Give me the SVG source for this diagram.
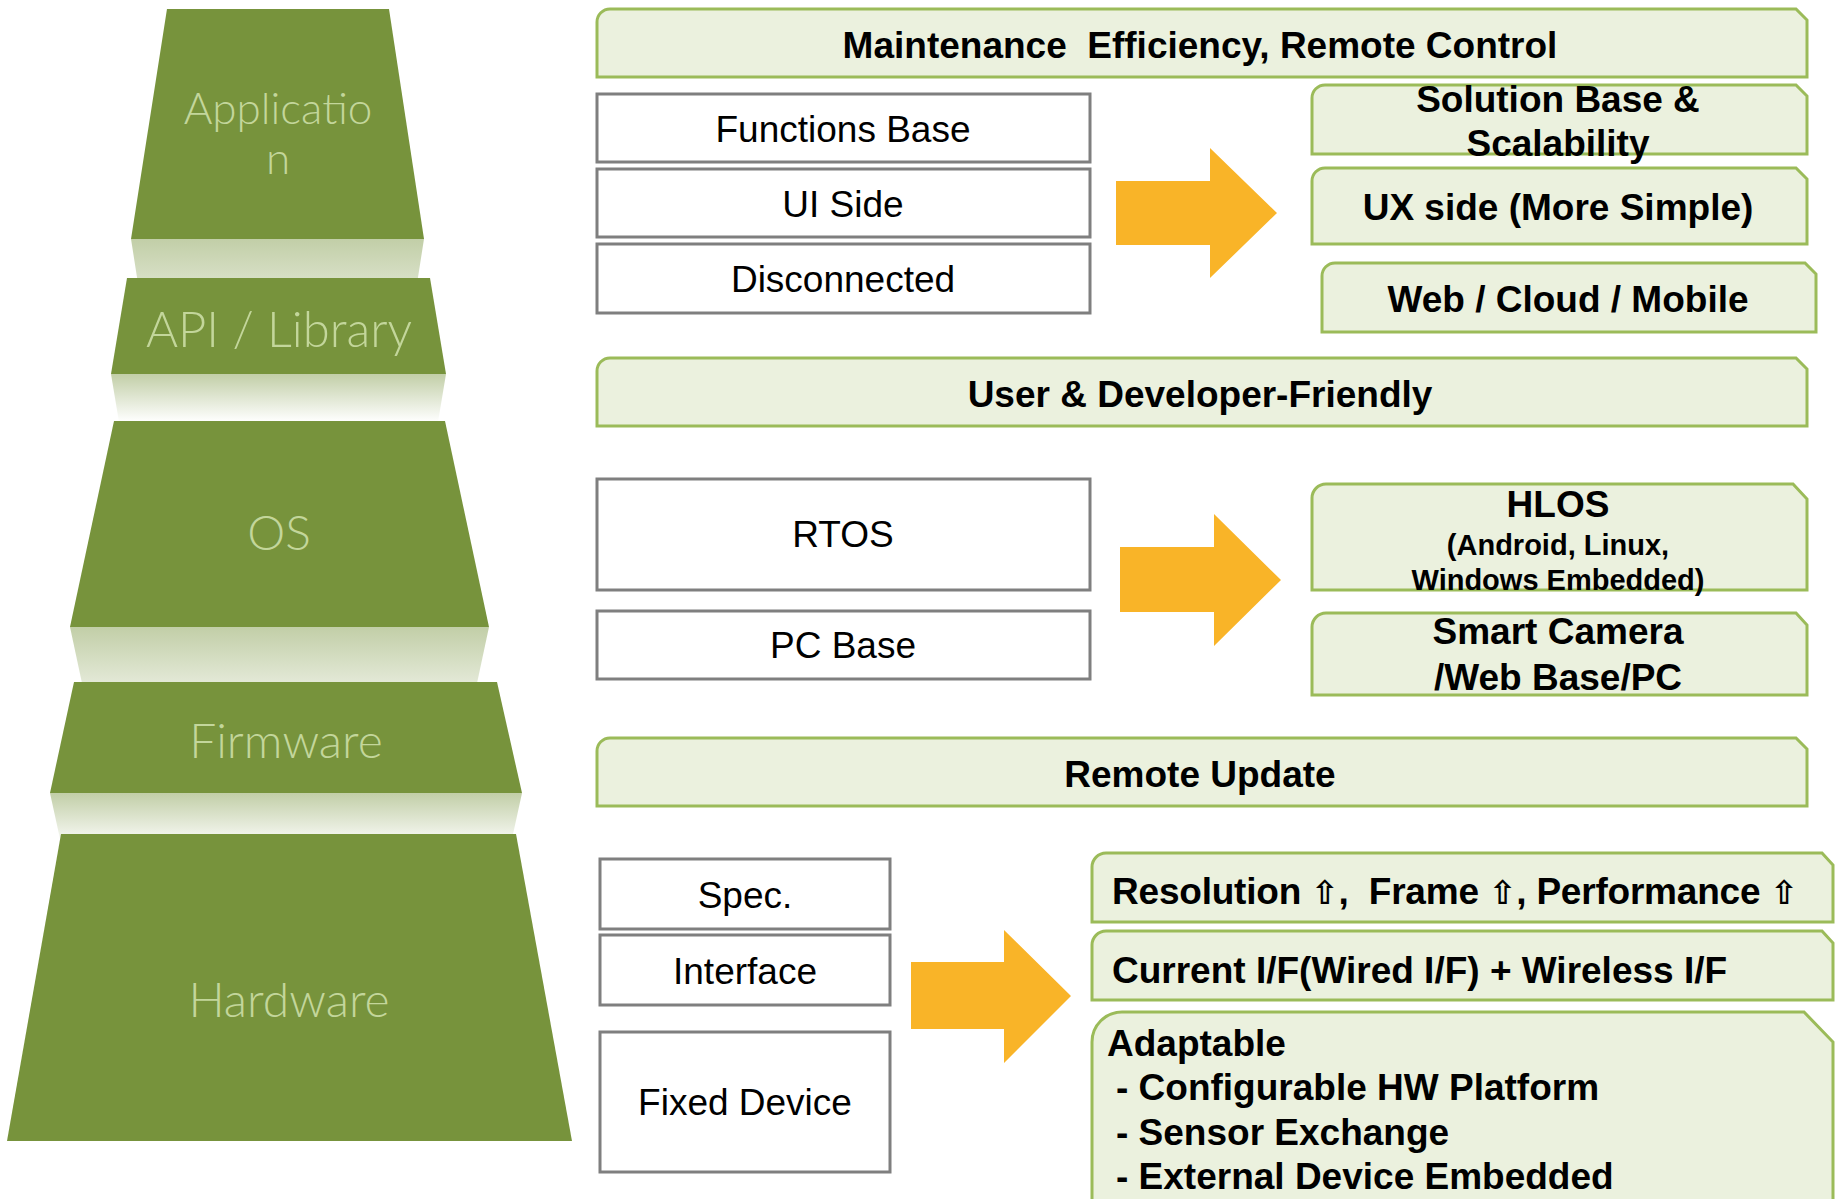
<svg xmlns="http://www.w3.org/2000/svg" width="1839" height="1199" viewBox="0 0 1839 1199">
<style>
.tier{fill:#77933c}
.tl{font-family:Lato,"Open Sans",sans-serif;font-weight:300;fill:#c3d69b;text-anchor:middle}
.gbox{fill:#ebf1de;stroke:#9bbb59;stroke-width:3}
.wbox{fill:#ffffff;stroke:#7f7f7f;stroke-width:3}
.bt{font-family:"Liberation Sans",Arial,"DejaVu Sans",sans-serif;font-weight:bold;font-size:37px;fill:#000}
.st{font-size:29px}
.rt{font-family:"Liberation Sans",Arial,sans-serif;font-size:37px;fill:#000;text-anchor:middle}
.c{text-anchor:middle}
.arrow{fill:#f9b428}
.sym{font-family:"DejaVu Sans",sans-serif;font-weight:bold;font-size:33px}
</style>
<defs>
<linearGradient id="refl" x1="0" y1="0" x2="0" y2="1">
<stop offset="0" stop-color="#77933c" stop-opacity="0.45"/>
<stop offset="1" stop-color="#77933c" stop-opacity="0"/>
</linearGradient>
</defs>
<rect width="1839" height="1199" fill="#ffffff"/>

<g id="pyramid">
<g id="tier-application">
<polygon class="tier" points="167,9 389,9 424,239 131,239"/>
<polygon fill="url(#refl)" points="131,239 424,239 406,354 149,354"/>
<text class="tl" x="278" y="124" font-size="44">Applicatio</text>
<text class="tl" x="278" y="174" font-size="44">n</text>
</g>
<g id="tier-api">
<polygon class="tier" points="127,278 430,278 446,374 111,374"/>
<polygon fill="url(#refl)" points="111,374 446,374 438,422 119,422"/>
<text class="tl" x="279" y="347" font-size="49">API / Library</text>
</g>
<g id="tier-os">
<polygon class="tier" points="114,421 445,421 489,627 70,627"/>
<polygon fill="url(#refl)" points="70,627 489,627 467,730 92,730"/>
<text class="tl" x="279" y="550" font-size="48">OS</text>
</g>
<g id="tier-firmware">
<polygon class="tier" points="74,682 497,682 522,793 50,793"/>
<polygon fill="url(#refl)" points="50,793 522,793 510,848 62,848"/>
<text class="tl" x="286" y="758" font-size="48">Firmware</text>
</g>
<g id="tier-hardware">
<polygon class="tier" points="61,834 516,834 572,1141 7,1141"/>
<text class="tl" x="289" y="1017" font-size="48">Hardware</text>
</g>
</g>

<g id="connectors">
<polygon class="arrow" points="1116,181 1210,181 1210,148 1277,213 1210,278 1210,245 1116,245"/>
<polygon class="arrow" points="1120,547 1214,547 1214,514 1281,580 1214,646 1214,612 1120,612"/>
<polygon class="arrow" points="911,962 1004,962 1004,930 1071,996 1004,1063 1004,1029 911,1029"/>
</g>

<g id="maintenance">
<path class="gbox" d="M597,77 L597,22 A13,13 0 0 1 610,9 L1796,9 L1807,20 L1807,77 Z"/>
<text class="bt c" x="1200" y="58" xml:space="preserve">Maintenance  Efficiency, Remote Control</text>
</g>
<g id="functions-base">
<rect class="wbox" x="597" y="94" width="493" height="68"/>
<text class="rt" x="843" y="142">Functions Base</text>
</g>
<g id="ui-side">
<rect class="wbox" x="597" y="169" width="493" height="68"/>
<text class="rt" x="843" y="217">UI Side</text>
</g>
<g id="disconnected">
<rect class="wbox" x="597" y="244" width="493" height="69"/>
<text class="rt" x="843" y="292">Disconnected</text>
</g>
<g id="solution-base">
<path class="gbox" d="M1312,154 L1312,98 A13,13 0 0 1 1325,85 L1796,85 L1807,96 L1807,154 Z"/>
<text class="bt c" x="1558" y="112">Solution Base &amp;</text>
<text class="bt c" x="1558" y="156">Scalability</text>
</g>
<g id="ux-side">
<path class="gbox" d="M1312,244 L1312,181 A13,13 0 0 1 1325,168 L1796,168 L1807,179 L1807,244 Z"/>
<text class="bt c" x="1558" y="220">UX side (More Simple)</text>
</g>
<g id="web-cloud-mobile">
<path class="gbox" d="M1322,332 L1322,276 A13,13 0 0 1 1335,263 L1805,263 L1816,274 L1816,332 Z"/>
<text class="bt c" x="1568" y="312">Web / Cloud / Mobile</text>
</g>
<g id="user-dev-friendly">
<path class="gbox" d="M597,426 L597,371 A13,13 0 0 1 610,358 L1796,358 L1807,369 L1807,426 Z"/>
<text class="bt c" x="1200" y="407">User &amp; Developer-Friendly</text>
</g>
<g id="rtos">
<rect class="wbox" x="597" y="479" width="493" height="111"/>
<text class="rt" x="843" y="547">RTOS</text>
</g>
<g id="pc-base">
<rect class="wbox" x="597" y="611" width="493" height="68"/>
<text class="rt" x="843" y="658">PC Base</text>
</g>
<g id="hlos">
<path class="gbox" d="M1312,590 L1312,498 A14,14 0 0 1 1326,484 L1793,484 L1807,499 L1807,590 Z"/>
<text class="bt c" x="1558" y="517">HLOS</text>
<text class="bt c st" x="1558" y="555">(Android, Linux,</text>
<text class="bt c st" x="1558" y="590">Windows Embedded)</text>
</g>
<g id="smart-camera">
<path class="gbox" d="M1312,695 L1312,627 A14,14 0 0 1 1326,613 L1796,613 L1807,625 L1807,695 Z"/>
<text class="bt c" x="1558" y="644">Smart Camera</text>
<text class="bt c" x="1558" y="690">/Web Base/PC</text>
</g>
<g id="remote-update">
<path class="gbox" d="M597,806 L597,751 A13,13 0 0 1 610,738 L1796,738 L1807,749 L1807,806 Z"/>
<text class="bt c" x="1200" y="787">Remote Update</text>
</g>
<g id="spec">
<rect class="wbox" x="600" y="859" width="290" height="70"/>
<text class="rt" x="745" y="908">Spec.</text>
</g>
<g id="interface">
<rect class="wbox" x="600" y="935" width="290" height="70"/>
<text class="rt" x="745" y="984">Interface</text>
</g>
<g id="fixed-device">
<rect class="wbox" x="600" y="1032" width="290" height="140"/>
<text class="rt" x="745" y="1115">Fixed Device</text>
</g>
<g id="resolution">
<path class="gbox" d="M1092,922 L1092,867 A14,14 0 0 1 1106,853 L1822,853 L1833,865 L1833,922 Z"/>
<text class="bt" x="1112" y="904" xml:space="preserve" textLength="686" lengthAdjust="spacing">Resolution <tspan class="sym">⇧</tspan>,  Frame <tspan class="sym">⇧</tspan>, Performance <tspan class="sym">⇧</tspan></text>
</g>
<g id="current-if">
<path class="gbox" d="M1092,1000 L1092,945 A14,14 0 0 1 1106,931 L1822,931 L1833,943 L1833,1000 Z"/>
<text class="bt" x="1112" y="983">Current I/F(Wired I/F) + Wireless I/F</text>
</g>
<g id="adaptable">
<path class="gbox" d="M1092,1215 L1092,1042 A30,30 0 0 1 1122,1012 L1804,1012 L1833,1042 L1833,1215 Z"/>
<text class="bt" x="1107" y="1056">Adaptable</text>
<text class="bt" x="1116" y="1100">- Configurable HW Platform</text>
<text class="bt" x="1116" y="1145">- Sensor Exchange</text>
<text class="bt" x="1116" y="1189">- External Device Embedded</text>
</g>
</svg>
